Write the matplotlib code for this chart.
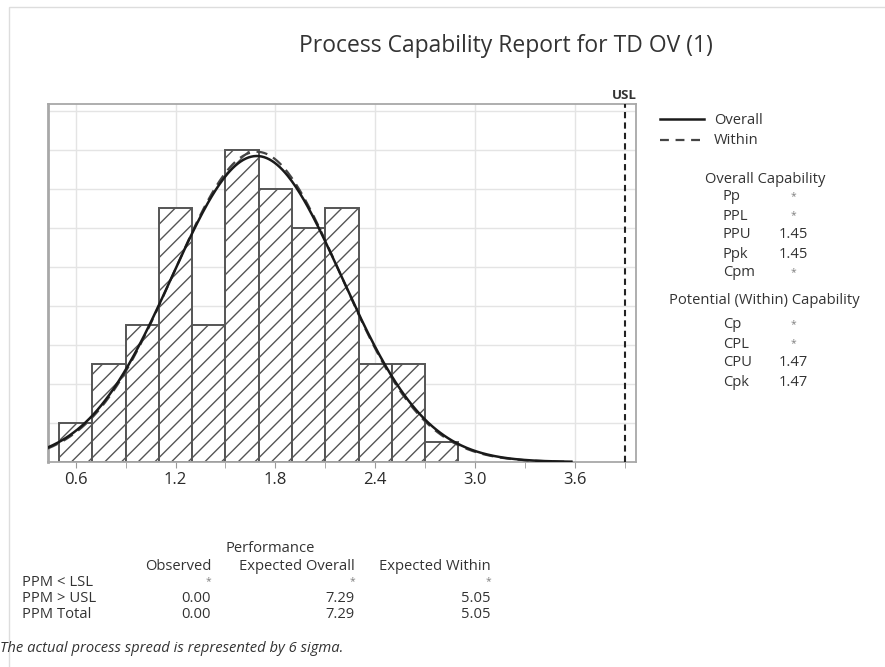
import numpy as np
import matplotlib
matplotlib.use("Agg")
import matplotlib.pyplot as plt
from matplotlib.lines import Line2D
from matplotlib.patches import Rectangle

plt.rcParams["font.family"] = ["Open Sans", "DejaVu Sans"]

# ---- data ----
bin_edges = [0.5, 0.7, 0.9, 1.1, 1.3, 1.5, 1.7, 1.9, 2.1, 2.3, 2.5, 2.7, 2.9]
counts = [2, 5, 7, 13, 7, 16, 14, 12, 13, 5, 5, 1]
usl = 3.9
mean = 1.688
sd_overall = 0.509
sd_within = 0.502
curve_range = (0.43, 3.58)

overall_names = ["Pp", "PPL", "PPU", "Ppk", "Cpm"]
overall_vals = ["*", "*", "1.45", "1.45", "*"]
within_names = ["Cp", "CPL", "CPU", "Cpk"]
within_vals = ["*", "*", "1.47", "1.47"]

ppm_rows = ["PPM < LSL", "PPM > USL", "PPM Total"]
ppm_cols = ["Observed", "Expected Overall", "Expected Within"]
ppm_observed = ["*", "0.00", "0.00"]
ppm_exp_overall = ["*", "7.29", "7.29"]
ppm_exp_within = ["*", "5.05", "5.05"]

W, H = 885, 667
TXT = "#333333"
FS = 10.6


def fx(x):
    return x / W


def fy(y):
    return 1 - y / H


def val_text(x, y, v, ha="center"):
    # stars are printed small and grey in the report
    if v == "*":
        fig.text(fx(x), fy(y), v, ha=ha, va="center", fontsize=7.5, color="#808080")
    else:
        fig.text(fx(x), fy(y), v, ha=ha, va="center", fontsize=FS, color=TXT)


fig = plt.figure(figsize=(W / 100, H / 100), dpi=100)
fig.patch.set_facecolor("white")

# outer panel frame
fig.add_artist(Rectangle((fx(9), fy(700)), fx(900), fy(7) - fy(700),
                         transform=fig.transFigure, fill=False,
                         edgecolor="#dddddd", lw=1))

ax = fig.add_axes([fx(48), fy(462), fx(636) - fx(48), fy(104) - fy(462)])

n = sum(counts)
widths = np.diff(bin_edges)
ax.bar(bin_edges[:-1], counts, width=widths, align="edge",
       facecolor="white", edgecolor="#555555", hatch="//", lw=1.4, zorder=2)

bw = widths[0]
xs = np.linspace(curve_range[0], curve_range[1], 400)


def normal_curve(x, mu, sd):
    return n * bw / (sd * np.sqrt(2 * np.pi)) * np.exp(-0.5 * ((x - mu) / sd) ** 2)


ax.plot(xs, normal_curve(xs, mean, sd_within), color="#444444", lw=1.6,
        ls=(0, (5, 3)), zorder=3)
ax.plot(xs, normal_curve(xs, mean, sd_overall), color="#1a1a1a", lw=1.8, zorder=4)

ax.axvline(usl, color="#222222", lw=1.5, ls=(0, (3, 2)), zorder=3)
ax.text(usl, 18.45, "USL", ha="center", va="bottom", fontsize=9.5,
        fontweight="bold", color=TXT)

ax.set_xlim(0.433, 3.968)
ax.set_ylim(0, 18.34)
ax.set_xticks([0.6, 1.2, 1.8, 2.4, 3.0, 3.6])
ax.set_xticklabels(["0.6", "1.2", "1.8", "2.4", "3.0", "3.6"])
ax.set_xticks([0.9, 1.5, 2.1, 2.7, 3.3, 3.9], minor=True)
ax.set_yticks(range(2, 19, 2))
ax.tick_params(axis="y", left=False, labelleft=False)
ax.tick_params(axis="x", which="both", length=4, color="#999999",
               labelsize=12, labelcolor="#2a2a2a", pad=3)
ax.grid(True, color="#e4e4e4", lw=1, zorder=0)
ax.set_axisbelow(True)
for s in ax.spines.values():
    s.set_color("#a8a8a8")
    s.set_linewidth(1.3)
ax.spines["left"].set_linewidth(2)

# title
fig.text(fx(506), fy(46), "Process Capability Report for TD OV (1)",
         ha="center", va="center", fontsize=16.5, color=TXT)

# legend
fig.add_artist(Line2D([fx(660), fx(704)], [fy(119), fy(119)],
                      color="#1a1a1a", lw=1.8))
fig.add_artist(Line2D([fx(660), fx(704)], [fy(140), fy(140)],
                      color="#444444", lw=1.6, ls=(0, (4, 3))))
fig.text(fx(714), fy(121), "Overall", va="center", fontsize=FS, color=TXT)
fig.text(fx(714), fy(141), "Within", va="center", fontsize=FS, color=TXT)

# capability stats
fig.text(fx(765), fy(180), "Overall Capability", ha="center", va="center",
         fontsize=FS, color=TXT)
for i, (nm, v) in enumerate(zip(overall_names, overall_vals)):
    y = 197 + i * 19
    fig.text(fx(723), fy(y), nm, va="center", fontsize=FS, color=TXT)
    val_text(793, y, v)
fig.text(fx(764), fy(301), "Potential (Within) Capability", ha="center",
         va="center", fontsize=FS, color=TXT)
for i, (nm, v) in enumerate(zip(within_names, within_vals)):
    y = 325 + i * 19
    fig.text(fx(723), fy(y), nm, va="center", fontsize=FS, color=TXT)
    val_text(793, y, v)

# performance table
fig.text(fx(270), fy(549), "Performance", ha="center", va="center",
         fontsize=FS, color=TXT)
col_right = [211, 355, 491]
for cx, name in zip(col_right, ppm_cols):
    fig.text(fx(cx), fy(566), name, ha="right", va="center", fontsize=FS, color=TXT)
for i, row in enumerate(ppm_rows):
    y = 582 + i * 16
    fig.text(fx(22), fy(y), row, va="center", fontsize=FS, color=TXT)
    for cx, col in zip(col_right, [ppm_observed, ppm_exp_overall, ppm_exp_within]):
        val_text(cx, y, col[i], ha="right")

fig.text(fx(0), fy(648), "The actual process spread is represented by 6 sigma.",
         va="center", fontsize=10.6, style="italic", color=TXT)

fig.savefig("out.png", dpi=100)
